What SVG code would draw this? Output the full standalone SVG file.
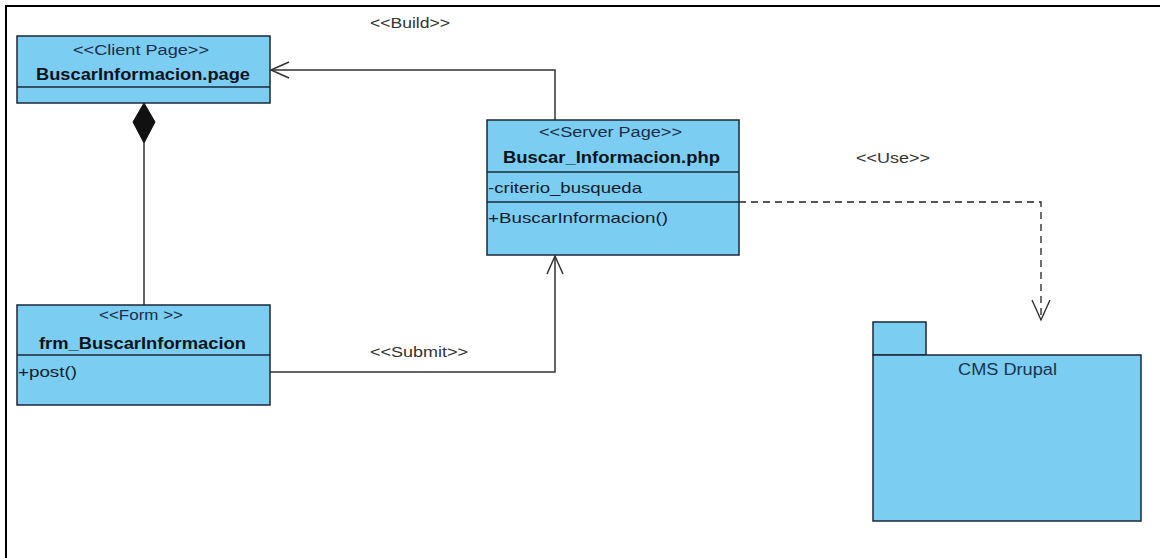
<svg xmlns="http://www.w3.org/2000/svg" width="1160" height="558" viewBox="0 0 1160 558">
  <defs>
    <style>
      .box { fill: #7bcdf1; stroke: #1b2838; stroke-width: 1.5; }
      .sep { stroke: #1b2838; stroke-width: 1.3; fill: none; }
      .edge { stroke: #333; stroke-width: 1.5; fill: none; }
      .dash { stroke: #222; stroke-width: 1.3; fill: none; stroke-dasharray: 7 5; }
      .st { font-family: "Liberation Sans", Arial, sans-serif; font-size: 14px; fill: #1c2d4a; }
      .nm { font-family: "Liberation Sans", Arial, sans-serif; font-size: 17px; font-weight: bold; fill: #0d1420; }
      .mb { font-family: "Liberation Sans", Arial, sans-serif; font-size: 15px; fill: #14202e; }
      .lb { font-family: "Liberation Sans", Arial, sans-serif; font-size: 14px; fill: #333; }
      .pk { font-family: "Liberation Sans", Arial, sans-serif; font-size: 16px; fill: #1a3350; }
    </style>
  </defs>

  <rect width="1160" height="558" fill="#fff"/>
  <!-- frame -->
  <path d="M6,558 L6,6 L1160,6" fill="none" stroke="#000" stroke-width="2"/>

  <!-- connectors -->
  <g id="connectors">
    <!-- build: server page to client page -->
    <path class="edge" d="M555,120 L555,70 L271,70"/>
    <path class="edge" d="M289,62 L271,70 L289,78"/>
    <!-- submit: form to server page -->
    <path class="edge" d="M270,372 L555,372 L555,256"/>
    <path class="edge" d="M547,274 L555,256 L563,274"/>
    <!-- use: server page to package -->
    <path class="dash" d="M739,202 L1041,202 L1041,320"/>
    <path d="M1032,300 L1041,320 L1050,300" fill="none" stroke="#222" stroke-width="1.3"/>
    <!-- composition -->
    <line x1="144" y1="143" x2="144" y2="305" class="edge"/>
    <path d="M144,103 L155,122 L144,143 L133,122 Z" fill="#111" stroke="#111"/>
    <text class="lb" x="370" y="28" textLength="80" lengthAdjust="spacingAndGlyphs">&lt;&lt;Build&gt;&gt;</text>
    <text class="lb" x="856" y="163" textLength="74" lengthAdjust="spacingAndGlyphs">&lt;&lt;Use&gt;&gt;</text>
    <text class="lb" x="370" y="357" textLength="98" lengthAdjust="spacingAndGlyphs">&lt;&lt;Submit&gt;&gt;</text>
  </g>

  <!-- client page -->
  <g id="client-page">
    <rect class="box" x="17" y="36" width="253" height="67"/>
    <line class="sep" x1="17" y1="87" x2="270" y2="87"/>
    <text class="st" x="73" y="55" textLength="136" lengthAdjust="spacingAndGlyphs">&lt;&lt;Client Page&gt;&gt;</text>
    <text class="nm" x="36" y="80" textLength="214" lengthAdjust="spacingAndGlyphs">BuscarInformacion.page</text>
  </g>

  <!-- form -->
  <g id="form">
    <rect class="box" x="17" y="305" width="253" height="100"/>
    <line class="sep" x1="17" y1="355" x2="270" y2="355"/>
    <text class="st" x="99" y="320" textLength="84" lengthAdjust="spacingAndGlyphs">&lt;&lt;Form &gt;&gt;</text>
    <text class="nm" x="39" y="349" textLength="207" lengthAdjust="spacingAndGlyphs">frm_BuscarInformacion</text>
    <text class="mb" x="18" y="377" textLength="59" lengthAdjust="spacingAndGlyphs">+post()</text>
  </g>

  <!-- server page -->
  <g id="server-page">
    <rect class="box" x="487" y="120" width="252" height="135"/>
    <line class="sep" x1="487" y1="172" x2="739" y2="172"/>
    <line class="sep" x1="487" y1="202" x2="739" y2="202"/>
    <text class="st" x="539" y="137" textLength="143" lengthAdjust="spacingAndGlyphs">&lt;&lt;Server Page&gt;&gt;</text>
    <text class="nm" x="503" y="163" textLength="217" lengthAdjust="spacingAndGlyphs">Buscar_Informacion.php</text>
    <text class="mb" x="488" y="193" textLength="154" lengthAdjust="spacingAndGlyphs">-criterio_busqueda</text>
    <text class="mb" x="488" y="223" textLength="180" lengthAdjust="spacingAndGlyphs">+BuscarInformacion()</text>
  </g>

  <!-- package -->
  <g id="cms-drupal">
    <rect class="box" x="873" y="322" width="53" height="33"/>
    <rect class="box" x="873" y="355" width="268" height="166"/>
    <text class="pk" x="958" y="375" textLength="99" lengthAdjust="spacingAndGlyphs">CMS Drupal</text>
  </g>
</svg>
